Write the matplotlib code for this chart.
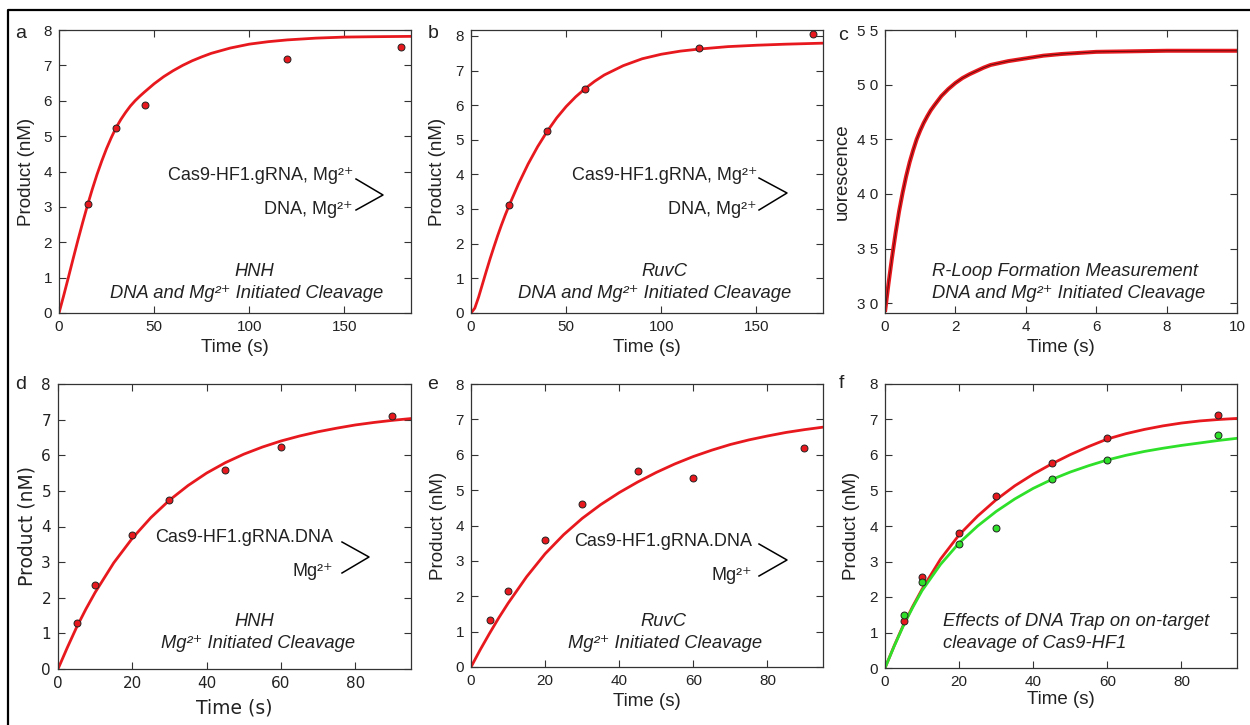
import matplotlib
matplotlib.use("Agg")
import matplotlib.pyplot as plt
from matplotlib.lines import Line2D

plt.rcParams['font.family'] = ['Liberation Sans', 'DejaVu Sans']

RED = '#e8191e'
GREEN = '#2fe02a'
MG = 'Mg²⁺'

# ---------------- data ----------------
# panel a : HNH, DNA and Mg2+ initiated
a_t = [15, 30, 45, 120, 180]
a_y = [3.07, 5.22, 5.88, 7.18, 7.52]
a_fit_t = [0, 2.5, 5, 7.5, 10, 12.5, 15, 17.5, 20, 22.5, 25, 27.5, 30, 32.5, 35, 37.5, 40, 42.5, 45,
           50, 55, 60, 65, 70, 75, 80, 90, 100, 110, 120, 135, 150, 165, 185]
a_fit_y = [0, 0.5, 1.02, 1.55, 2.07, 2.57, 3.05, 3.5, 3.92, 4.3, 4.65, 4.96, 5.24, 5.47, 5.67, 5.85, 6.0, 6.13, 6.25,
           6.48, 6.68, 6.85, 7.0, 7.13, 7.24, 7.34, 7.49, 7.6, 7.67, 7.72, 7.77, 7.8, 7.81, 7.82]

# panel b : RuvC, DNA and Mg2+ initiated
b_t = [20, 40, 60, 120, 180]
b_y = [3.12, 5.26, 6.48, 7.66, 8.05]
b_fit_t = [0, 2, 4, 6, 8, 10, 12, 14, 16, 18, 20, 25, 30, 35, 40, 45, 50, 55, 60, 65, 70,
           80, 90, 100, 110, 120, 135, 150, 165, 185]
b_fit_y = [0, 0.14, 0.46, 0.83, 1.2, 1.56, 1.9, 2.23, 2.54, 2.83, 3.1, 3.73, 4.3, 4.8, 5.24, 5.63, 5.96, 6.24, 6.48, 6.69, 6.87,
           7.14, 7.34, 7.47, 7.56, 7.62, 7.69, 7.73, 7.76, 7.79]

# panel c : R-loop formation (fluorescence trace)
c_t = [0, 0.05, 0.1, 0.2, 0.3, 0.4, 0.5, 0.6, 0.7, 0.8, 0.9, 1.0, 1.1, 1.2, 1.3, 1.4, 1.6, 1.8, 2.0, 2.2,
       2.4, 2.6, 2.8, 3.0, 3.5, 4.0, 4.5, 5.0, 5.5, 6.0, 7.0, 8.0, 9.0, 10.0]
c_y = [29.2, 30.5, 31.8, 34.2, 36.4, 38.4, 40.1, 41.6, 42.9, 44.0, 45.0, 45.8, 46.5, 47.1, 47.65, 48.1, 48.95, 49.6, 50.15, 50.6,
       50.95, 51.25, 51.55, 51.8, 52.15, 52.4, 52.65, 52.8, 52.9, 53.0, 53.05, 53.1, 53.1, 53.1]

# panel d : HNH, Mg2+ initiated
d_t = [5, 10, 20, 30, 45, 60, 90]
d_y = [1.3, 2.36, 3.75, 4.74, 5.59, 6.22, 7.1]
d_fit_t = [0, 2.5, 5, 7.5, 10, 15, 20, 25, 30, 35, 40, 45, 50, 55, 60, 65, 70, 75, 80, 85, 90, 95]
d_fit_y = [0, 0.6, 1.17, 1.68, 2.15, 2.98, 3.67, 4.25, 4.74, 5.15, 5.5, 5.79, 6.03, 6.23, 6.4, 6.54, 6.66, 6.76, 6.85, 6.92, 6.98, 7.03]

# panel e : RuvC, Mg2+ initiated
e_t = [5, 10, 20, 30, 45, 60, 90]
e_y = [1.33, 2.15, 3.58, 4.6, 5.53, 5.33, 6.18]
e_fit_t = [0, 2.5, 5, 7.5, 10, 15, 20, 25, 30, 35, 40, 45, 50, 55, 60, 65, 70, 75, 80, 85, 90, 95]
e_fit_y = [0, 0.49, 0.95, 1.39, 1.8, 2.55, 3.2, 3.74, 4.2, 4.59, 4.93, 5.23, 5.5, 5.74, 5.95, 6.13, 6.29, 6.42, 6.53, 6.63, 6.71, 6.78]

# panel f : effect of DNA trap
f_t = [5, 10, 20, 30, 45, 60, 90]
f_red_y = [1.33, 2.55, 3.81, 4.84, 5.77, 6.49, 7.14]
f_green_y = [1.48, 2.42, 3.5, 3.95, 5.33, 5.86, 6.57]
f_fit_t = [0, 2.5, 5, 7.5, 10, 15, 20, 25, 30, 35, 40, 45, 50, 55, 60, 65, 70, 75, 80, 85, 90, 95]
f_red_fit = [0, 0.63, 1.22, 1.74, 2.22, 3.07, 3.75, 4.28, 4.74, 5.13, 5.46, 5.75, 6.01, 6.24, 6.45, 6.6, 6.72, 6.82, 6.9, 6.96, 7.0, 7.03]
f_green_fit = [0, 0.62, 1.2, 1.71, 2.18, 2.92, 3.52, 4.0, 4.41, 4.76, 5.06, 5.31, 5.52, 5.7, 5.86, 5.99, 6.1, 6.19, 6.27, 6.34, 6.41, 6.47]

W, H = 1250, 725
fig = plt.figure(figsize=(W / 100, H / 100), dpi=100)


def px_axes(l, t, r, b):
    return fig.add_axes([l / W, 1 - b / H, (r - l) / W, (b - t) / H])


def ftext(x, y, s, **kw):
    fig.text(x / W, 1 - y / H, s, **kw)


def bracket(x0, y0, x1, y1, y2):
    fig.add_artist(Line2D([x0 / W, x1 / W, x0 / W], [1 - y0 / H, 1 - y1 / H, 1 - y2 / H],
                          color='black', lw=1.1))


def style(ax, xticks, yticks, xlim, ylim, tickfont=None):
    ax.set_xlim(*xlim)
    ax.set_ylim(*ylim)
    ax.set_xticks(xticks)
    ax.set_yticks(yticks)
    ax.tick_params(direction='in', top=True, right=True, length=5, width=0.8,
                   colors='#333333', labelcolor='#222222', labelsize=11, pad=5)
    for sp in ax.spines.values():
        sp.set_color('#333333')
        sp.set_linewidth(0.9)
    if tickfont:
        for lab in ax.get_xticklabels() + ax.get_yticklabels():
            lab.set_family(tickfont)


def labels(ax, xlab, ylab, xl_off, yl_x, font=None):
    kw = dict(fontsize=13.5, color='#222222')
    if font:
        kw['family'] = font
    ax.set_xlabel(xlab, **kw)
    ax.set_ylabel(ylab, **kw)
    ax.xaxis.set_label_coords(0.5, xl_off)
    ax.yaxis.set_label_coords(yl_x, 0.5)


mk = dict(marker='o', ls='none', ms=5, mec='#222222', mew=0.7, zorder=3)
TXT = dict(fontsize=13, color='#222222')
ITX = dict(fontsize=13.2, color='#222222', style='italic')

# ---- a ----
ax = px_axes(59, 30, 411, 313)
ax.plot(a_fit_t, a_fit_y, color=RED, lw=2.0)
ax.plot(a_t, a_y, mfc=RED, **mk)
style(ax, [0, 50, 100, 150], range(0, 9), (0, 185), (0, 8))
labels(ax, 'Time (s)', 'Product (nM)', -0.092, -0.068)
ftext(353, 176, 'Cas9-HF1.gRNA, ' + MG, ha='right', va='center', **TXT)
ftext(353, 209, 'DNA, ' + MG, ha='right', va='center', **TXT)
bracket(356, 179, 383, 195, 210)
ftext(254, 272, 'HNH', ha='center', va='center', **ITX)
ftext(247, 293, 'DNA and ' + MG + ' Initiated Cleavage', ha='center', va='center', **ITX)

# ---- b ----
ax = px_axes(471, 30, 823, 313)
ax.plot(b_fit_t, b_fit_y, color=RED, lw=2.0)
ax.plot(b_t, b_y, mfc=RED, **mk)
style(ax, [0, 50, 100, 150], range(0, 9), (0, 185), (0, 8.17))
labels(ax, 'Time (s)', 'Product (nM)', -0.092, -0.071)
ftext(757, 175, 'Cas9-HF1.gRNA, ' + MG, ha='right', va='center', **TXT)
ftext(757, 209, 'DNA, ' + MG, ha='right', va='center', **TXT)
bracket(759, 178, 787, 193, 210)
ftext(664, 272, 'RuvC', ha='center', va='center', **ITX)
ftext(655, 293, 'DNA and ' + MG + ' Initiated Cleavage', ha='center', va='center', **ITX)

# ---- c ----
ax = px_axes(885, 30, 1237, 313)
ax.plot(c_t, c_y, color=RED, lw=2.9, solid_capstyle='butt')
ax.plot(c_t, c_y, color='#5a0a0a', lw=0.6)
style(ax, [0, 2, 4, 6, 8, 10], [30, 35, 40, 45, 50, 55], (0, 10), (29.1, 55))
ax.set_yticklabels(['3 0', '3 5', '4 0', '4 5', '5 0', '5 5'])
labels(ax, 'Time (s)', 'uorescence', -0.092, -0.097)
ftext(932, 272, 'R-Loop Formation Measurement', ha='left', va='center', **ITX)
ftext(932, 293, 'DNA and ' + MG + ' Initiated Cleavage', ha='left', va='center', **ITX)

# ---- d ----
ax = px_axes(58, 384, 411, 669)
ax.plot(d_fit_t, d_fit_y, color=RED, lw=2.0)
ax.plot(d_t, d_y, mfc=RED, **mk)
style(ax, [0, 20, 40, 60, 80], range(0, 9), (0, 95), (0, 8), tickfont='DejaVu Sans')
labels(ax, 'Time (s)', 'Product (nM)', -0.105, -0.062, font='DejaVu Sans')
ftext(333, 537, 'Cas9-HF1.gRNA.DNA', ha='right', va='center', **TXT)
ftext(333, 572, MG, ha='right', va='center', **TXT)
bracket(342, 542, 369, 557, 573)
ftext(254, 622, 'HNH', ha='center', va='center', **ITX)
ftext(258, 643, MG + ' Initiated Cleavage', ha='center', va='center', **ITX)

# ---- e ----
ax = px_axes(471, 384, 823, 667)
ax.plot(e_fit_t, e_fit_y, color=RED, lw=2.0)
ax.plot(e_t, e_y, mfc=RED, **mk)
style(ax, [0, 20, 40, 60, 80], range(0, 9), (0, 95), (0, 8))
labels(ax, 'Time (s)', 'Product (nM)', -0.092, -0.068)
ftext(752, 541, 'Cas9-HF1.gRNA.DNA', ha='right', va='center', **TXT)
ftext(752, 575, MG, ha='right', va='center', **TXT)
bracket(759, 544, 787, 560, 576)
ftext(663, 622, 'RuvC', ha='center', va='center', **ITX)
ftext(665, 643, MG + ' Initiated Cleavage', ha='center', va='center', **ITX)

# ---- f ----
ax = px_axes(885, 384, 1237, 668)
ax.plot(f_fit_t, f_red_fit, color=RED, lw=2.0)
ax.plot(f_fit_t, f_green_fit, color=GREEN, lw=2.0)
ax.plot(f_t, f_red_y, mfc=RED, **mk)
ax.plot(f_t, f_green_y, mfc=GREEN, **mk)
style(ax, [0, 20, 40, 60, 80], range(0, 9), (0, 95), (0, 8))
labels(ax, 'Time (s)', 'Product (nM)', -0.081, -0.071)
ftext(943, 622, 'Effects of DNA Trap on on-target', ha='left', va='center', **ITX)
ftext(943, 643, 'cleavage of Cas9-HF1', ha='left', va='center', **ITX)

# panel letters
for x, y, s in [(21, 34, 'a'), (433, 34, 'b'), (843, 36, 'c'),
                (21, 385, 'd'), (433, 385, 'e'), (841, 384, 'f')]:
    ftext(x, y, s, ha='center', va='center', fontsize=14, color='#222222')

# outer frame (left and top edges)
fig.add_artist(Line2D([8 / W, 8 / W, 1.0], [0.0, 1 - 10 / H, 1 - 10 / H], color='black', lw=1.6))

fig.savefig('out.png', dpi=100)
